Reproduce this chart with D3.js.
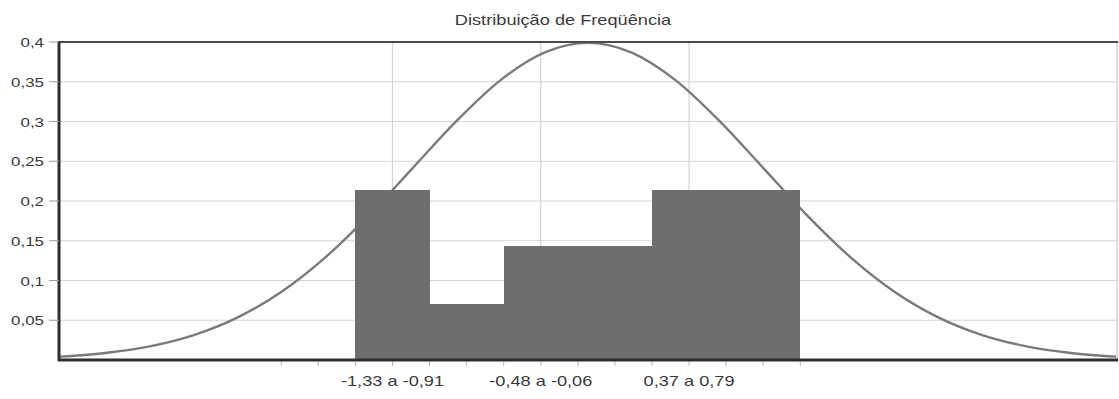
<!DOCTYPE html>
<html>
<head>
<meta charset="utf-8">
<script src="https://cdn.jsdelivr.net/npm/d3@7/dist/d3.min.js"></script>
<style>
  html, body { margin: 0; padding: 0; background: #ffffff; }
  svg { display: block; }
  text { font-family: "Liberation Sans", Arial, sans-serif; fill: #3a3a3a; }
</style>
</head>
<body>
<svg id="chart" width="1119" height="399"></svg>
<script>
// Histogram bins: edges, labels and relative frequencies
const binEdges = [-1.33, -0.906, -0.482, -0.058, 0.366, 0.79, 1.214];
const binLabels = ["-1,33 a -0,91", "", "-0,48 a -0,06", "", "0,37 a 0,79", ""];
const binValues = [0.214, 0.071, 0.143, 0.143, 0.214, 0.214];

// Normal density overlay
const curveX = [-3.02, -2.75, -2.5, -2.25, -2.0, -1.75, -1.5, -1.25, -1.0, -0.75, -0.5, -0.25, 0,
                0.25, 0.5, 0.75, 1.0, 1.25, 1.5, 1.75, 2.0, 2.25, 2.5, 2.75, 3.02];
const curveY = [0.0042, 0.0091, 0.0175, 0.0317, 0.0540, 0.0863, 0.1295, 0.1826, 0.2420, 0.3011, 0.3521, 0.3867, 0.3989,
                0.3867, 0.3521, 0.3011, 0.2420, 0.1826, 0.1295, 0.0863, 0.0540, 0.0317, 0.0175, 0.0091, 0.0042];

// Axis ticks
const yTicks = [0.05, 0.1, 0.15, 0.2, 0.25, 0.3, 0.35, 0.4];
const yTickLabels = ["0,05", "0,1", "0,15", "0,2", "0,25", "0,3", "0,35", "0,4"];
const xMinorTicks = [-1.754, -1.542, -1.33, -1.118, -0.906, -0.694, -0.482, -0.27, -0.058,
                     0.154, 0.366, 0.578, 0.79, 1.002, 1.214];

const title = "Distribuição de Freqüência";

const svg = d3.select("#chart");
const plotLeft = 59, plotRight = 1117, plotTop = 42, plotBottom = 360;
const stretch = 1.3;

const x = d3.scaleLinear().domain([-3.025, 3.025]).range([plotLeft, plotRight]);
const y = d3.scaleLinear().domain([0, 0.4]).range([plotBottom, plotTop]);

// Horizontal gridlines
svg.append("g")
  .selectAll("line")
  .data(yTicks)
  .join("line")
  .attr("x1", plotLeft).attr("x2", plotRight)
  .attr("y1", d => y(d)).attr("y2", d => y(d))
  .attr("stroke", "#d4d4d4").attr("stroke-width", 1.2);

// Vertical gridlines at labelled bin centres
const labelled = binLabels.map((l, i) => ({ l, c: (binEdges[i] + binEdges[i + 1]) / 2 })).filter(d => d.l);
svg.append("g")
  .selectAll("line")
  .data(labelled)
  .join("line")
  .attr("x1", d => x(d.c)).attr("x2", d => x(d.c))
  .attr("y1", plotTop).attr("y2", plotBottom)
  .attr("stroke", "#d4d4d4").attr("stroke-width", 1.2);

// Right frame
svg.append("line")
  .attr("x1", plotRight).attr("x2", plotRight).attr("y1", plotTop).attr("y2", plotBottom)
  .attr("stroke", "#c8c8c8").attr("stroke-width", 1.2);

// Density curve (drawn beneath the bars)
svg.append("path")
  .datum(curveX.map((v, i) => [v, curveY[i]]))
  .attr("fill", "none")
  .attr("stroke", "#7a7a7a")
  .attr("stroke-width", 2.4)
  .attr("d", d3.line().x(d => x(d[0])).y(d => y(d[1])).curve(d3.curveMonotoneX));

// Bars
svg.append("g")
  .attr("shape-rendering", "crispEdges")
  .selectAll("rect")
  .data(binValues)
  .join("rect")
  .attr("x", (d, i) => Math.round(x(binEdges[i])))
  .attr("width", (d, i) => Math.round(x(binEdges[i + 1])) - Math.round(x(binEdges[i])))
  .attr("y", d => y(d))
  .attr("height", d => y(0) - y(d))
  .attr("fill", "#6e6e6e");

// Top frame
svg.append("line")
  .attr("x1", plotLeft).attr("x2", plotRight + 1).attr("y1", plotTop).attr("y2", plotTop)
  .attr("stroke", "#4a4a4a").attr("stroke-width", 2);

// Y axis
const yAxis = svg.append("g");
yAxis.append("line")
  .attr("x1", plotLeft).attr("x2", plotLeft).attr("y1", plotTop - 1).attr("y2", plotBottom + 1)
  .attr("stroke", "#2e2e2e").attr("stroke-width", 3);
yAxis.selectAll(".tick")
  .data(yTicks)
  .join("line")
  .attr("class", "tick")
  .attr("x1", plotLeft - 10).attr("x2", plotLeft)
  .attr("y1", d => y(d)).attr("y2", d => y(d))
  .attr("stroke", "#9a9a9a").attr("stroke-width", 1);
yAxis.selectAll("g.lab")
  .data(yTicks)
  .join("g")
  .attr("class", "lab")
  .attr("transform", d => `translate(44,${y(d) + 5}) scale(${stretch},1)`)
  .append("text")
  .attr("text-anchor", "end")
  .attr("font-size", 13)
  .text((d, i) => yTickLabels[i]);

// X axis
const xAxis = svg.append("g");
xAxis.selectAll("line.tick")
  .data(xMinorTicks)
  .join("line")
  .attr("class", "tick")
  .attr("x1", d => x(d)).attr("x2", d => x(d))
  .attr("y1", plotBottom).attr("y2", plotBottom + 6)
  .attr("stroke", "#b8b8b8").attr("stroke-width", 1);
xAxis.append("line")
  .attr("x1", plotLeft - 1).attr("x2", plotRight + 1).attr("y1", plotBottom).attr("y2", plotBottom)
  .attr("stroke", "#2e2e2e").attr("stroke-width", 3);
xAxis.selectAll("g.lab")
  .data(labelled)
  .join("g")
  .attr("class", "lab")
  .attr("transform", d => `translate(${x(d.c)},386) scale(${stretch},1)`)
  .append("text")
  .attr("text-anchor", "middle")
  .attr("font-size", 14)
  .text(d => d.l);

// Title
svg.append("g")
  .attr("transform", `translate(563,25) scale(${stretch},1)`)
  .append("text")
  .attr("text-anchor", "middle")
  .attr("font-size", 14)
  .attr("fill", "#555")
  .text(title);
</script>
</body>
</html>
